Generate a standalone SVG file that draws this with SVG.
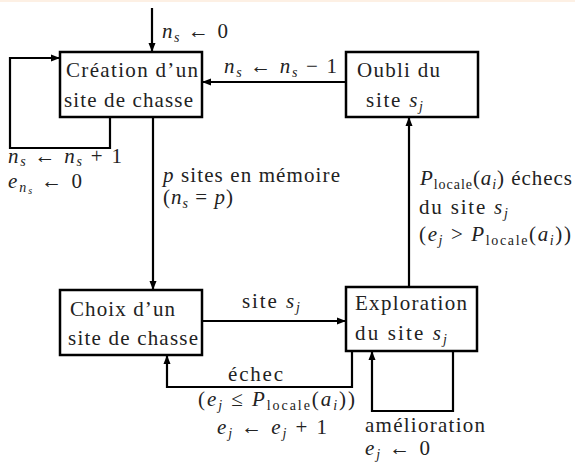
<svg xmlns="http://www.w3.org/2000/svg" width="575" height="463" viewBox="0 0 575 463">
<style>
text{font-size:21px;fill:#222}
.i{font-style:italic}
.sub{font-size:14px}
.box{fill:#fff;stroke:#000;stroke-width:2.5}
.c{fill:none;stroke:#000;stroke-width:2.2}
</style>
<defs>
<marker id="ah" markerUnits="userSpaceOnUse" markerWidth="9" markerHeight="8" refX="9" refY="4" orient="auto">
<path d="M0,0.5 L9,4 L0,7.5 z" fill="#000"/>
</marker>
</defs>
<rect x="0" y="0" width="575" height="2" fill="#fbe6d2" opacity="0.6"/>
<g font-family="'Liberation Serif', 'DejaVu Serif', 'Times New Roman', Times, serif">
<g id="connectors">
<line class="c" x1="152" y1="8" x2="152" y2="52" marker-end="url(#ah)"/>
<polyline class="c" points="110,117 110,148 10,148 10,58 60,58" marker-end="url(#ah)"/>
<line class="c" x1="346" y1="82" x2="202" y2="82" marker-end="url(#ah)"/>
<line class="c" x1="153" y1="117" x2="153" y2="290" marker-end="url(#ah)"/>
<line class="c" x1="202" y1="321" x2="346" y2="321" marker-end="url(#ah)"/>
<line class="c" x1="409" y1="287" x2="409" y2="117" marker-end="url(#ah)"/>
<polyline class="c" points="352,351 352,387 167,387 167,355" marker-end="url(#ah)"/>
<polyline class="c" points="453,351 453,411 372,411 372,351" marker-end="url(#ah)"/>
<text x="162" y="38" textLength="66" lengthAdjust="spacing"><tspan class="i">n</tspan><tspan class="i sub" dy="4">s</tspan><tspan dy="-4"> ← 0</tspan></text>
<text x="224" y="73" textLength="113" lengthAdjust="spacing"><tspan class="i">n</tspan><tspan class="i sub" dy="4">s</tspan><tspan dy="-4"> ← </tspan><tspan class="i">n</tspan><tspan class="i sub" dy="4">s</tspan><tspan dy="-4"> − 1</tspan></text>
<text x="8" y="163" textLength="114" lengthAdjust="spacing"><tspan class="i">n</tspan><tspan class="i sub" dy="3">s</tspan><tspan dy="-3"> ← </tspan><tspan class="i">n</tspan><tspan class="i sub" dy="3">s</tspan><tspan dy="-3"> + 1</tspan></text>
<text x="8" y="188" textLength="74" lengthAdjust="spacing"><tspan class="i">e</tspan><tspan class="i sub" dy="4">n</tspan><tspan class="i" font-size="10" dy="2">s</tspan><tspan dy="-6"> ← 0</tspan></text>
<text x="163" y="182" textLength="177" lengthAdjust="spacing"><tspan class="i">p</tspan> sites en mémoire</text>
<text x="163" y="204" textLength="70" lengthAdjust="spacing">(<tspan class="i">n</tspan><tspan class="i sub" dy="4">s</tspan><tspan dy="-4"> = </tspan><tspan class="i">p</tspan>)</text>
<text x="420" y="185" textLength="152" lengthAdjust="spacing"><tspan class="i">P</tspan><tspan class="sub" dy="4">locale</tspan><tspan dy="-4">(</tspan><tspan class="i">a</tspan><tspan class="i sub" dy="4">i</tspan><tspan dy="-4">) échecs</tspan></text>
<text x="419" y="214" textLength="89" lengthAdjust="spacing">du site <tspan class="i">s</tspan><tspan class="i sub" dy="4">j</tspan></text>
<text x="419" y="241" textLength="152" lengthAdjust="spacing">(<tspan class="i">e</tspan><tspan class="i sub" dy="4">j</tspan><tspan dy="-4"> &gt; </tspan><tspan class="i">P</tspan><tspan class="sub" dy="4">locale</tspan><tspan dy="-4">(</tspan><tspan class="i">a</tspan><tspan class="i sub" dy="4">i</tspan><tspan dy="-4">))</tspan></text>
<text x="242" y="308" textLength="58" lengthAdjust="spacing">site <tspan class="i">s</tspan><tspan class="i sub" dy="4">j</tspan></text>
<text x="228" y="381" textLength="55" lengthAdjust="spacing">échec</text>
<text x="198" y="406" textLength="157" lengthAdjust="spacing">(<tspan class="i">e</tspan><tspan class="i sub" dy="4">j</tspan><tspan dy="-4"> ≤ </tspan><tspan class="i">P</tspan><tspan class="sub" dy="4">locale</tspan><tspan dy="-4">(</tspan><tspan class="i">a</tspan><tspan class="i sub" dy="4">i</tspan><tspan dy="-4">))</tspan></text>
<text x="217" y="434" textLength="110" lengthAdjust="spacing"><tspan class="i">e</tspan><tspan class="i sub" dy="4">j</tspan><tspan dy="-4"> ← </tspan><tspan class="i">e</tspan><tspan class="i sub" dy="4">j</tspan><tspan dy="-4"> + 1</tspan></text>
<text x="365" y="432" textLength="120" lengthAdjust="spacing">amélioration</text>
<text x="365" y="455" textLength="65" lengthAdjust="spacing"><tspan class="i">e</tspan><tspan class="i sub" dy="4">j</tspan><tspan dy="-4"> ← 0</tspan></text>
</g>
<g id="creation">
<rect class="box" x="60" y="52" width="142" height="65"/>
<text x="66" y="77" textLength="132" lengthAdjust="spacing">Création d’un</text>
<text x="64" y="107" textLength="129" lengthAdjust="spacing">site de chasse</text>
</g>
<g id="oubli">
<rect class="box" x="346" y="52" width="132" height="65"/>
<text x="357" y="77" textLength="83" lengthAdjust="spacing">Oubli du</text>
<text x="366" y="107" textLength="57" lengthAdjust="spacing">site <tspan class="i">s</tspan><tspan class="i sub" dy="4">j</tspan></text>
</g>
<g id="choix">
<rect class="box" x="60" y="290" width="142" height="65"/>
<text x="70" y="316" textLength="105" lengthAdjust="spacing">Choix d’un</text>
<text x="68" y="345" textLength="130" lengthAdjust="spacing">site de chasse</text>
</g>
<g id="exploration">
<rect class="box" x="346" y="287" width="131" height="64"/>
<text x="355" y="310" textLength="112" lengthAdjust="spacing">Exploration</text>
<text x="355" y="340" textLength="92" lengthAdjust="spacing">du site <tspan class="i">s</tspan><tspan class="i sub" dy="4">j</tspan></text>
</g>
</g>
</svg>
